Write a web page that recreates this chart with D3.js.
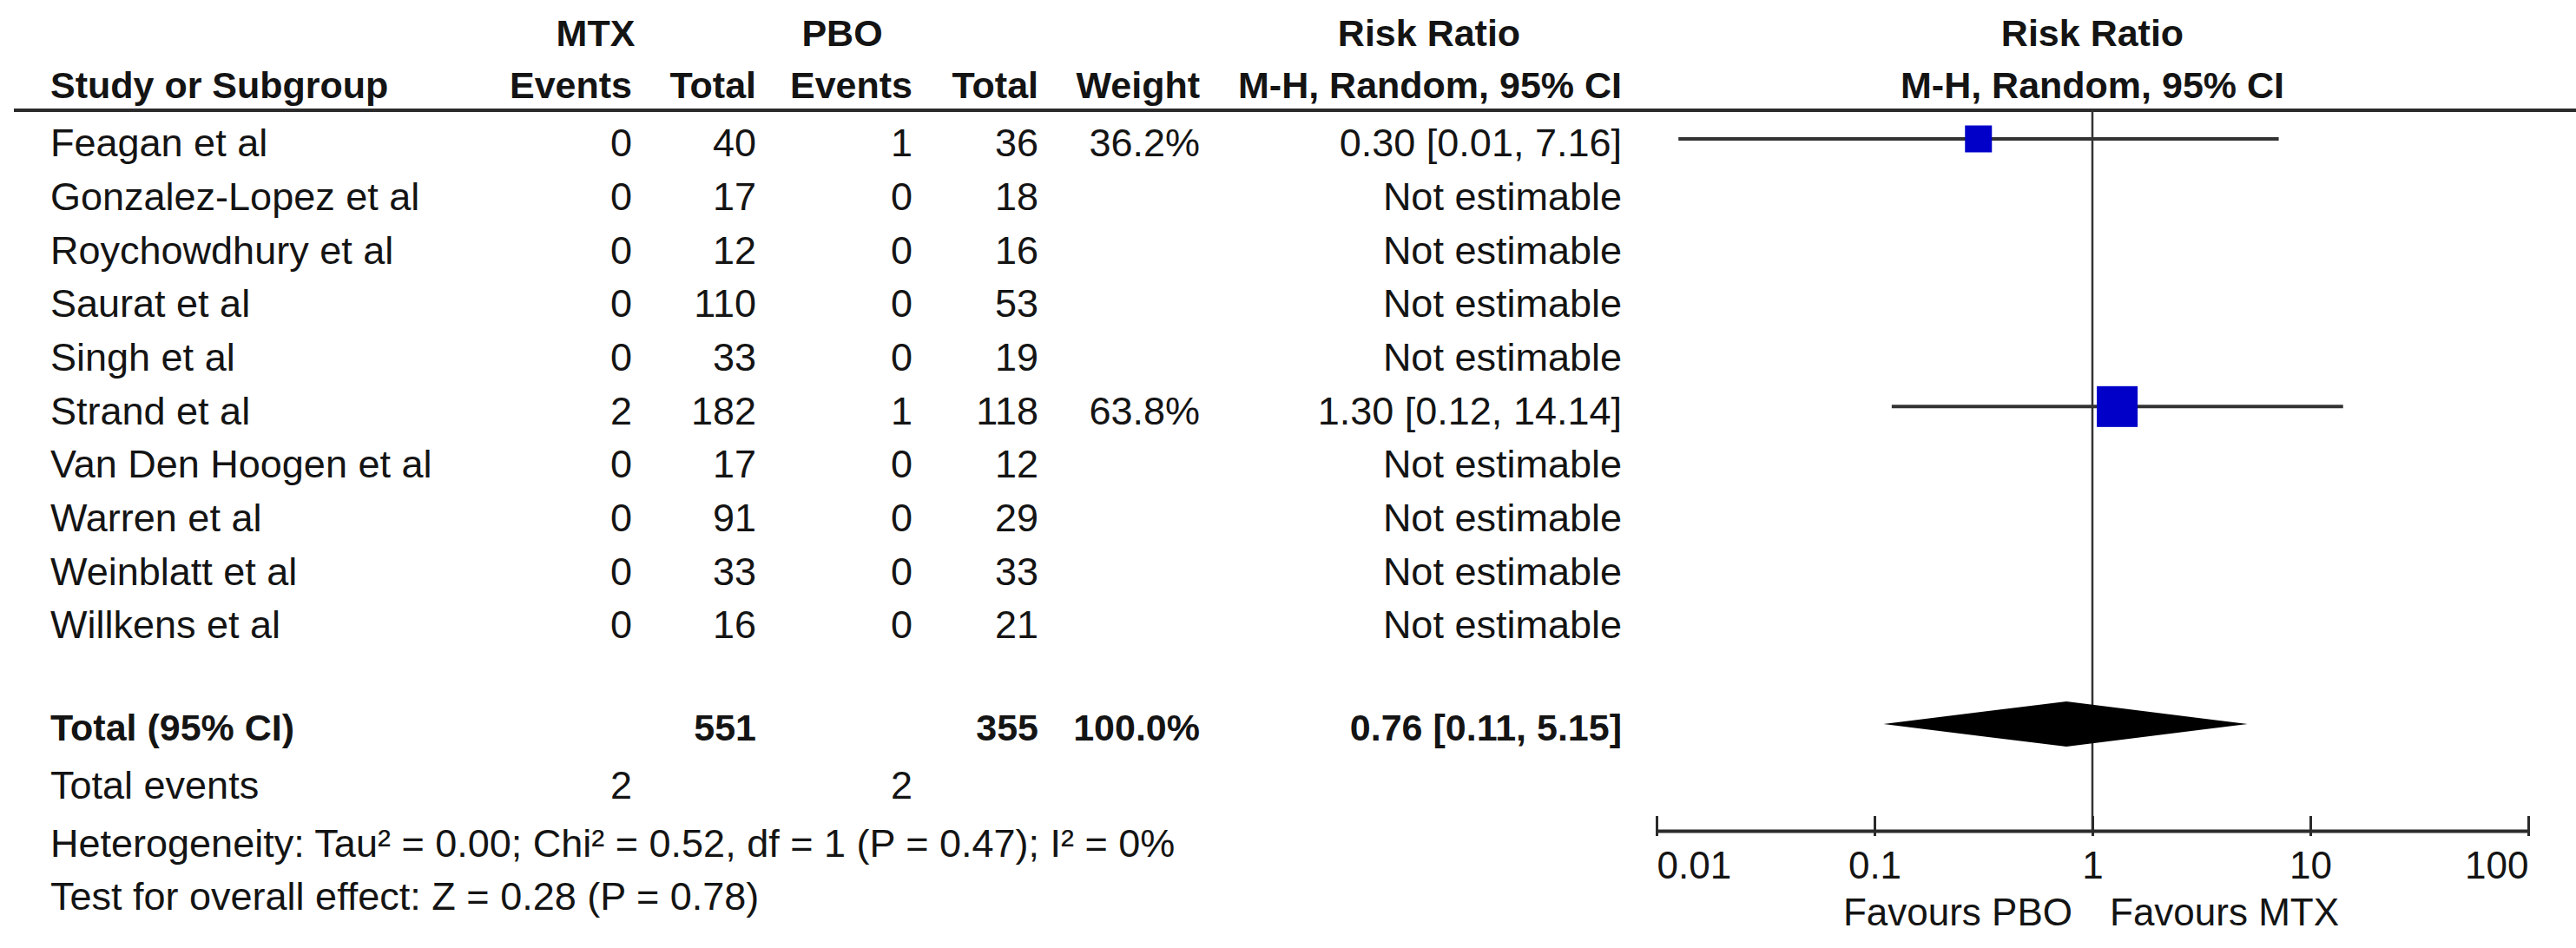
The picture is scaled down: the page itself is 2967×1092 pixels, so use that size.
<!DOCTYPE html>
<html>
<head>
<meta charset="utf-8">
<script src="https://cdn.jsdelivr.net/npm/d3@7"></script>
<style>
  html, body { margin: 0; padding: 0; background: #fff; }
  svg text { font-family: "Liberation Sans", Arial, sans-serif; fill: #141414; }
</style>
</head>
<body>
<div id="forest"></div>
<script>
const studies = ["Feagan et al", "Gonzalez-Lopez et al", "Roychowdhury et al", "Saurat et al", "Singh et al",
    "Strand et al", "Van Den Hoogen et al", "Warren et al", "Weinblatt et al", "Willkens et al"];
const mtxEvents = [0, 0, 0, 0, 0, 2, 0, 0, 0, 0];
const mtxTotal = [40, 17, 12, 110, 33, 182, 17, 91, 33, 16];
const pboEvents = [1, 0, 0, 0, 0, 1, 0, 0, 0, 0];
const pboTotal = [36, 18, 16, 53, 19, 118, 12, 29, 33, 21];
const weights = [36.2, null, null, null, null, 63.8, null, null, null, null];
const riskRatio = [0.30, null, null, null, null, 1.30, null, null, null, null];
const ciLow = [0.0126, null, null, null, null, 0.12, null, null, null, null];
const ciHigh = [7.16, null, null, null, null, 14.14, null, null, null, null];
const rrLabels = ["0.30 [0.01, 7.16]", "Not estimable", "Not estimable", "Not estimable", "Not estimable",
    "1.30 [0.12, 14.14]", "Not estimable", "Not estimable", "Not estimable", "Not estimable"];

const totalMtx = 551, totalPbo = 355, totalWeight = "100.0%";
const pooled = { rr: 0.76, lo: 0.11, hi: 5.15, label: "0.76 [0.11, 5.15]" };
const totalEvents = [2, 2];
const heterogeneityText = "Heterogeneity: Tau\u00b2 = 0.00; Chi\u00b2 = 0.52, df = 1 (P = 0.47); I\u00b2 = 0%";
const overallText = "Test for overall effect: Z = 0.28 (P = 0.78)";
const axisTicks = [0.01, 0.1, 1, 10, 100];
const axisLabels = ["0.01", "0.1", "1", "10", "100"];
const favours = ["Favours PBO", "Favours MTX"];

const W = 2967, H = 1092;
const FS = 45, FSB = 43;

const svg = d3.select("#forest").append("svg")
    .attr("width", W).attr("height", H);

// column right edges
const col = { name: 58, mtxE: 728, mtxT: 871, pboE: 1051, pboT: 1196, weight: 1382, rr: 1868 };

const y = d3.scalePoint().domain(studies).range([160, 715]);
const x = d3.scaleLog().domain([0.01, 100]).range([1908, 2912]);
const box = d3.scaleLinear().domain([0, 100]).range([10, 68]);

// text sits a few px lower than the marks of its row
function txt(xp, yp, s, anchor, bold) {
    return svg.append("text")
        .attr("x", xp).attr("y", yp + 4)
        .attr("dy", "0.36em")
        .attr("text-anchor", anchor || "end")
        .style("font-size", (bold ? FSB : FS) + "px")
        .style("font-weight", bold ? "bold" : "normal")
        .text(s);
}

// headers
txt(686, 34, "MTX", "middle", true);
txt(970, 34, "PBO", "middle", true);
txt(1646, 34, "Risk Ratio", "middle", true);
txt(x(1), 34, "Risk Ratio", "middle", true);
const yh = 94;
txt(col.name, yh, "Study or Subgroup", "start", true);
txt(col.mtxE, yh, "Events", "end", true);
txt(col.mtxT, yh, "Total", "end", true);
txt(col.pboE, yh, "Events", "end", true);
txt(col.pboT, yh, "Total", "end", true);
txt(col.weight, yh, "Weight", "end", true);
txt(col.rr, yh, "M-H, Random, 95% CI", "end", true);
txt(x(1), yh, "M-H, Random, 95% CI", "middle", true);

svg.append("line")
    .attr("x1", 16).attr("x2", W)
    .attr("y1", 127).attr("y2", 127)
    .attr("stroke", "#2b2b2b").attr("stroke-width", 4);

// study rows
studies.forEach(function(s, i) {
    const yy = y(s);
    txt(col.name, yy, s, "start");
    txt(col.mtxE, yy, mtxEvents[i]);
    txt(col.mtxT, yy, mtxTotal[i]);
    txt(col.pboE, yy, pboEvents[i]);
    txt(col.pboT, yy, pboTotal[i]);
    if (weights[i] !== null) txt(col.weight, yy, weights[i].toFixed(1) + "%");
    txt(col.rr, yy, rrLabels[i]);
});

const axisY = 957;

// line of no effect
svg.append("line")
    .attr("x1", x(1)).attr("x2", x(1))
    .attr("y1", 127).attr("y2", axisY)
    .attr("stroke", "#333").attr("stroke-width", 2.5);

const est = studies.map(function(s, i) {
    return { name: s, rr: riskRatio[i], lo: ciLow[i], hi: ciHigh[i], w: weights[i] };
}).filter(function(d) { return d.rr !== null; });

svg.selectAll(".ci").data(est).enter().append("line")
    .attr("class", "ci")
    .attr("x1", function(d) { return x(d.lo); })
    .attr("x2", function(d) { return x(d.hi); })
    .attr("y1", function(d) { return y(d.name); })
    .attr("y2", function(d) { return y(d.name); })
    .attr("stroke", "#333").attr("stroke-width", 4);

svg.selectAll(".box").data(est).enter().append("rect")
    .attr("class", "box")
    .attr("x", function(d) { return x(d.rr) - box(d.w) / 2; })
    .attr("y", function(d) { return y(d.name) - box(d.w) / 2; })
    .attr("width", function(d) { return box(d.w); })
    .attr("height", function(d) { return box(d.w); })
    .attr("fill", "#0000c8");

// totals
const yt = 834;
txt(col.name, yt, "Total (95% CI)", "start", true);
txt(col.mtxT, yt, totalMtx, "end", true);
txt(col.pboT, yt, totalPbo, "end", true);
txt(col.weight, yt, totalWeight, "end", true);
txt(col.rr, yt, pooled.label, "end", true);

svg.append("path")
    .attr("d", d3.line()([
        [x(pooled.lo), yt], [x(pooled.rr), yt - 26],
        [x(pooled.hi), yt], [x(pooled.rr), yt + 26]
    ]) + "Z")
    .attr("fill", "#000");

txt(col.name, 900, "Total events", "start");
txt(col.mtxE, 900, totalEvents[0]);
txt(col.pboE, 900, totalEvents[1]);
txt(col.name, 967, heterogeneityText, "start");
txt(col.name, 1028, overallText, "start");

// axis
const axis = svg.append("g")
    .attr("transform", "translate(0," + axisY + ")")
    .call(d3.axisBottom(x)
        .tickValues(axisTicks)
        .tickFormat(function(d, i) { return axisLabels[i]; })
        .tickSizeInner(-17)
        .tickSizeOuter(0)
        .tickPadding(24));
axis.select(".domain").attr("stroke", "#2b2b2b").attr("stroke-width", 4);
axis.selectAll(".tick line").attr("y1", 6).attr("y2", -17)
    .attr("stroke", "#2b2b2b").attr("stroke-width", 3);
axis.selectAll(".tick text")
    .attr("fill", "#141414")
    .style("font-family", "'Liberation Sans', Arial, sans-serif")
    .style("font-size", "44px")
    .attr("text-anchor", function(d, i) {
        return i === 0 ? "start" : (i === axisTicks.length - 1 ? "end" : "middle");
    });

svg.append("text").attr("x", x(1) - 23).attr("y", 1050).attr("dy", "0.36em")
    .attr("text-anchor", "end").style("font-size", "44px").text(favours[0]);
svg.append("text").attr("x", x(1) + 20).attr("y", 1050).attr("dy", "0.36em")
    .attr("text-anchor", "start").style("font-size", "44px").text(favours[1]);
</script>
</body>
</html>
